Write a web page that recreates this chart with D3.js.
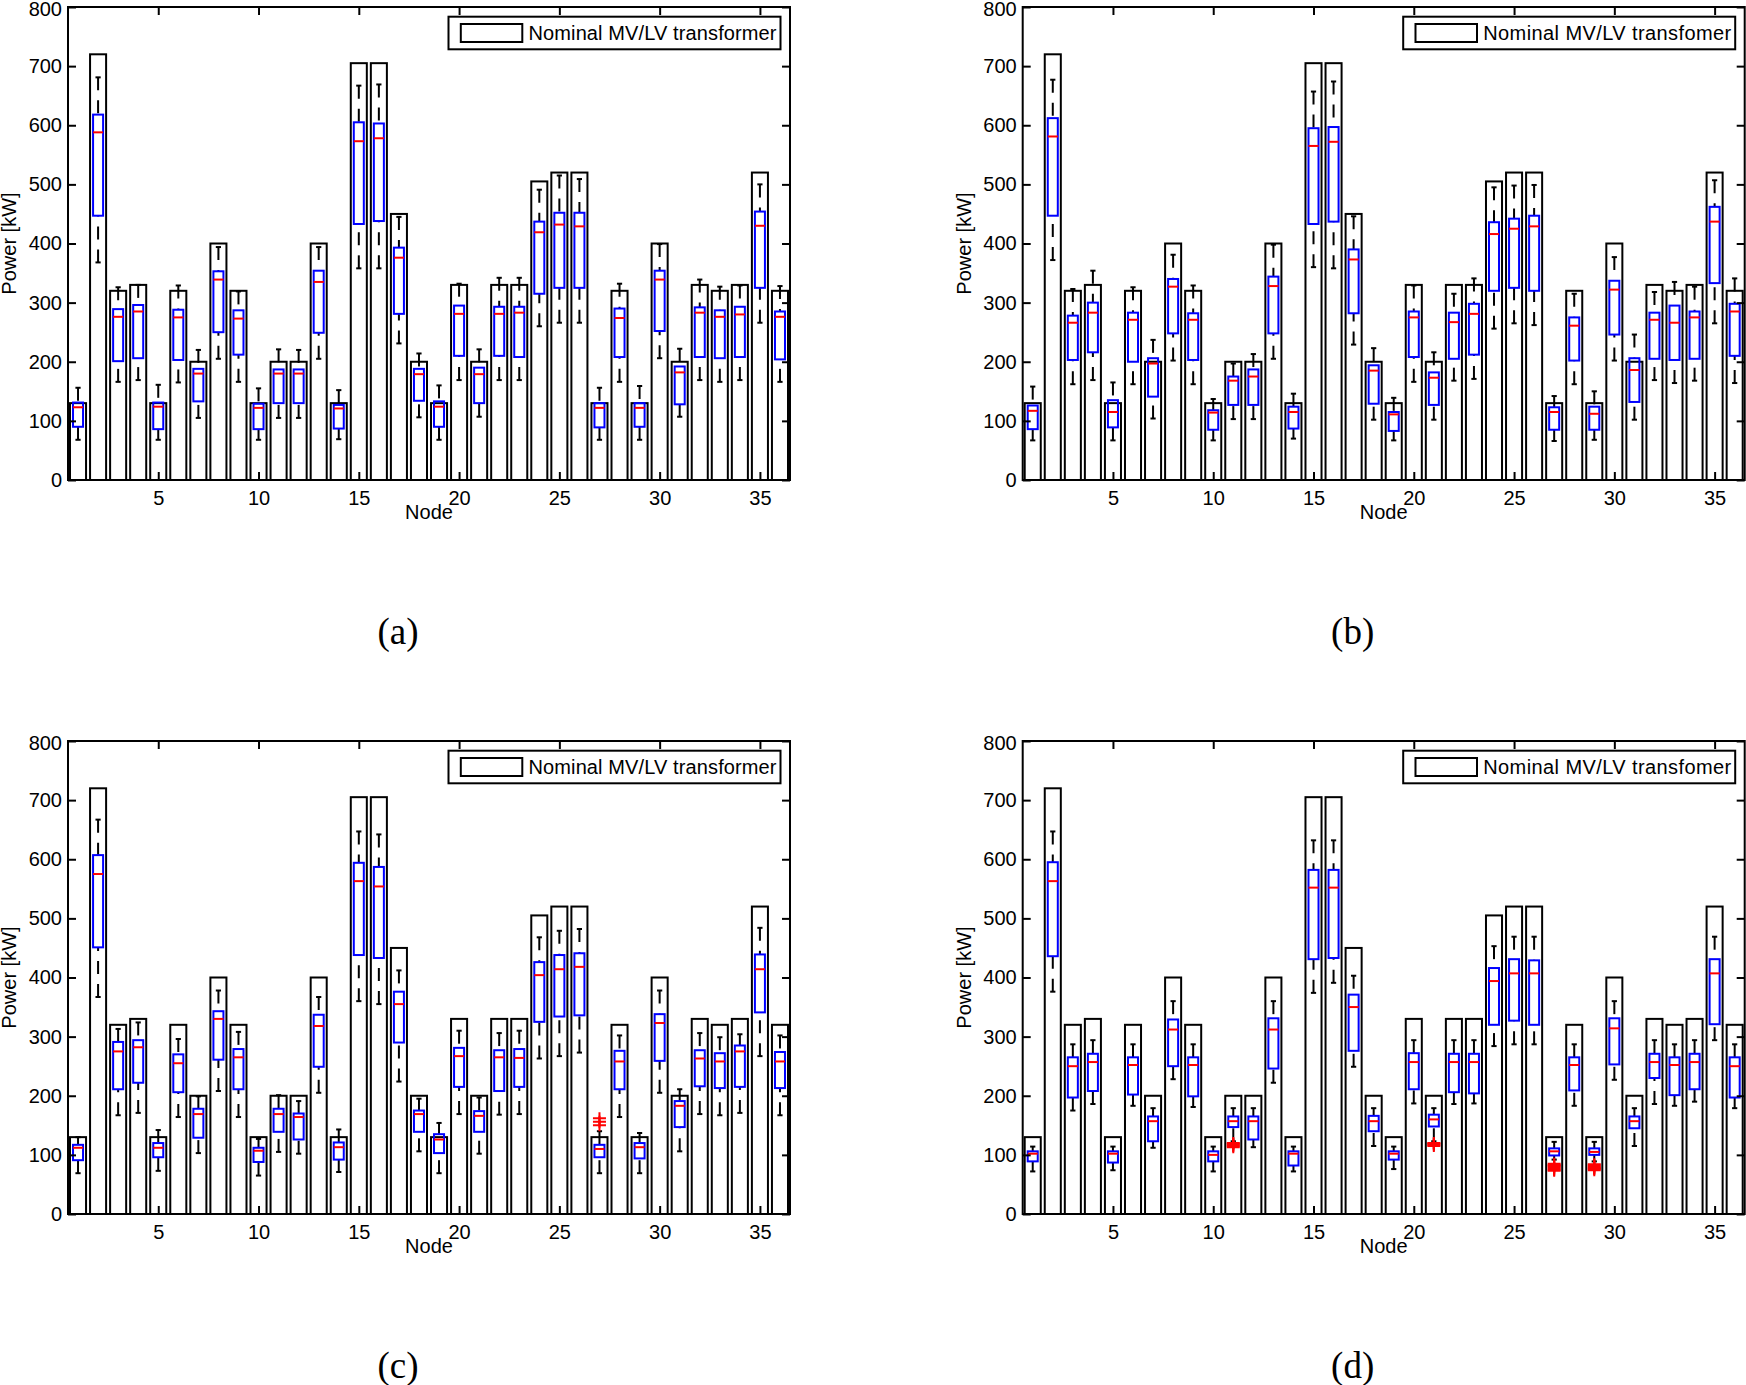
<!DOCTYPE html>
<html><head><meta charset="utf-8">
<script src="https://cdn.jsdelivr.net/npm/d3@7/dist/d3.min.js"></script>
<style>body{margin:0;background:#fff}svg{display:block}</style>
</head><body>
<svg id="chart" width="1746" height="1385"></svg>
<script>
// ---------------- data ----------------
const nodes = d3.range(1, 37);
const xTicks = [5, 10, 15, 20, 25, 30, 35];
const yTicks = [0, 100, 200, 300, 400, 500, 600, 700, 800];
const capacity = [130,720,320,330,130,320,200,400,320,130,200,200,400,130,705,705,450,200,130,330,200,330,330,505,520,520,130,320,130,400,200,330,320,330,520,320];

// panel (a)
const a_lo  = [68,368,166,169,68,165,105,205,166,68,105,105,205,69,358,358,231,106,68,169,107,169,169,260,266,266,68,166,68,206,107,169,166,169,266,166];
const a_q1  = [90,447,201,206,86,203,133,250,212,86,130,130,249,87,433,438,281,134,90,210,130,210,208,315,325,325,89,208,90,252,128,208,206,208,325,204];
const a_med = [123,588,276,285,124,275,180,339,273,122,180,180,335,121,573,578,376,179,124,281,179,281,283,419,432,429,122,274,122,339,182,283,276,280,430,276];
const a_q3  = [131,618,289,296,131,288,188,353,287,129,187,187,354,127,605,603,393,188,133,295,190,293,293,437,452,452,130,290,130,354,192,292,287,293,454,285];
const a_hi  = [156,681,326,330,161,329,220,394,319,155,221,220,394,152,667,669,445,214,160,332,221,342,342,491,515,509,156,332,159,399,222,339,327,329,500,328];
const a_out = [];

// panel (b)
const b_lo  = [67,372,162,169,67,162,104,202,162,67,103,103,205,70,360,358,229,102,67,166,102,168,171,256,265,262,66,162,68,202,102,169,164,168,265,164];
const b_q1  = [86,447,203,216,89,200,141,248,203,85,127,127,248,87,433,437,282,129,83,208,127,205,212,320,325,320,85,202,85,246,132,205,203,205,333,210];
const b_med = [117,581,266,283,115,271,197,327,271,114,168,175,328,115,565,572,373,185,111,275,173,267,281,416,425,429,115,261,112,322,186,271,266,275,437,285];
const b_q3  = [126,612,278,300,135,283,206,340,282,118,175,187,344,124,595,597,390,194,115,285,182,283,298,436,442,447,123,275,124,337,206,283,295,285,462,298];
const b_hi  = [158,677,323,354,165,326,237,381,329,137,197,213,398,146,657,674,446,223,139,329,216,315,341,495,498,499,142,315,150,377,246,318,335,327,507,341];
const b_out = [];

// panel (c)
const c_lo  = [69,367,167,171,73,164,103,208,164,65,105,102,205,71,360,355,224,106,69,169,102,168,169,263,267,273,69,164,69,205,106,169,167,171,267,167];
const c_q1  = [91,451,211,222,96,206,129,261,211,88,139,126,249,92,438,433,290,139,103,215,139,208,215,325,334,336,96,211,94,259,147,216,213,215,341,213];
const c_med = [112,575,275,282,112,255,169,330,265,107,169,164,318,113,563,554,355,169,126,267,166,265,264,404,414,418,110,258,113,323,183,263,258,275,414,258];
const c_q3  = [117,607,291,294,120,270,178,343,279,112,178,170,337,121,594,587,376,175,135,281,174,277,279,426,438,441,117,276,120,338,191,277,272,285,439,274];
const c_hi  = [130,667,313,324,142,296,199,378,308,127,201,191,367,143,647,642,412,195,154,310,197,306,310,468,479,482,140,302,137,378,211,306,299,304,484,302];
const c_out = [[27,150],[27,156],[27,162]];

// panel (d)
const d_lo  = [72,376,175,186,74,183,112,228,181,72,123,113,222,72,374,391,249,115,76,187,123,186,187,284,287,287,92,183,89,227,115,186,183,190,294,179];
const d_q1  = [89,436,197,208,87,202,123,250,199,89,147,126,246,82,431,433,276,140,92,211,148,206,204,320,327,320,99,209,100,253,145,230,201,211,321,197];
const d_med = [102,563,250,257,102,252,157,312,252,100,157,157,312,102,552,552,350,157,102,257,160,257,257,394,407,407,106,252,105,314,157,257,252,257,407,250];
const d_q3  = [106,595,265,271,106,265,165,329,265,106,165,165,331,106,582,582,371,166,106,272,168,271,271,416,431,429,111,265,111,331,165,271,265,271,431,265];
const d_hi  = [114,647,287,294,114,287,179,360,287,114,179,179,360,114,632,632,403,179,114,294,179,294,294,453,469,469,122,287,122,360,179,294,287,294,469,287];
const d_out = [[11,113],[11,115],[11,117],[11,119],[11,120],[21,115],[21,117],[21,119],[21,120],
               [27,73],[27,75],[27,77],[27,79],[27,81],[27,83],[27,85],
               [29,74],[29,76],[29,78],[29,80],[29,82],[29,84]];

const panelLabels = ["(a)", "(b)", "(c)", "(d)"];
const legendTexts = ["Nominal MV/LV transformer", "Nominal MV/LV transfomer", "Nominal MV/LV transformer", "Nominal MV/LV transfomer"];
const yLabel = "Power [kW]";
const xLabel = "Node";

// ---------------- layout ----------------
const PW = 722, PH = 473;
const origins = [[68, 7], [1022.7, 7], [68, 741], [1022.7, 741]];
const series = [
  [a_lo, a_q1, a_med, a_q3, a_hi, a_out],
  [b_lo, b_q1, b_med, b_q3, b_hi, b_out],
  [c_lo, c_q1, c_med, c_q3, c_hi, c_out],
  [d_lo, d_q1, d_med, d_q3, d_hi, d_out]
];
const FONT = "'Liberation Sans', Arial, Helvetica, sans-serif";
const svg = d3.select("#chart");

series.forEach((s, i) => {
  const [lo, q1, med, q3, hi, out] = s;
  const [x0, y0] = origins[i];
  const x = d3.scaleLinear().domain([0.5, 36.5]).range([x0, x0 + PW]);
  const y = d3.scaleLinear().domain([0, 800]).range([y0 + PH, y0]);
  const g = svg.append("g");

  // transformer bars
  g.selectAll("rect.bar").data(nodes).join("rect").attr("class", "bar")
    .attr("x", n => x(n - 0.4)).attr("width", n => x(n + 0.4) - x(n - 0.4))
    .attr("y", n => y(capacity[n - 1])).attr("height", n => y(0) - y(capacity[n - 1]))
    .attr("fill", "#fff").attr("stroke", "#000").attr("stroke-width", 2);

  // whiskers (dashed, from cap toward box)
  g.selectAll("line.wu").data(nodes).join("line").attr("class", "wu")
    .attr("x1", n => x(n)).attr("x2", n => x(n))
    .attr("y1", n => y(hi[n - 1])).attr("y2", n => y(q3[n - 1]))
    .attr("stroke", "#000").attr("stroke-width", 2).attr("stroke-dasharray", "13,10");
  g.selectAll("line.wl").data(nodes).join("line").attr("class", "wl")
    .attr("x1", n => x(n)).attr("x2", n => x(n))
    .attr("y1", n => y(lo[n - 1])).attr("y2", n => y(q1[n - 1]))
    .attr("stroke", "#000").attr("stroke-width", 2).attr("stroke-dasharray", "13,10");
  // caps
  [hi, lo].forEach((arr, k) => {
    g.selectAll("line.cap" + k).data(nodes).join("line").attr("class", "cap" + k)
      .attr("x1", n => x(n - 0.13)).attr("x2", n => x(n + 0.13))
      .attr("y1", n => y(arr[n - 1])).attr("y2", n => y(arr[n - 1]))
      .attr("stroke", "#000").attr("stroke-width", 2);
  });
  // boxes
  g.selectAll("rect.box").data(nodes).join("rect").attr("class", "box")
    .attr("x", n => x(n - 0.25)).attr("width", n => x(n + 0.25) - x(n - 0.25))
    .attr("y", n => y(q3[n - 1])).attr("height", n => y(q1[n - 1]) - y(q3[n - 1]))
    .attr("fill", "none").attr("stroke", "#0000ff").attr("stroke-width", 2);
  // medians
  g.selectAll("line.med").data(nodes).join("line").attr("class", "med")
    .attr("x1", n => x(n - 0.25)).attr("x2", n => x(n + 0.25))
    .attr("y1", n => y(med[n - 1])).attr("y2", n => y(med[n - 1]))
    .attr("stroke", "#ff0000").attr("stroke-width", 2);
  // outliers
  g.selectAll("path.out").data(out).join("path").attr("class", "out")
    .attr("d", d => {
      const cx = x(d[0]), cy = y(d[1]);
      return `M${cx - 6.5},${cy}H${cx + 6.5}M${cx},${cy - 6}V${cy + 6}`;
    })
    .attr("fill", "none").attr("stroke", "#ff0000").attr("stroke-width", 2);

  // axes
  const styleAxis = sel => {
    sel.select(".domain").remove();
    sel.selectAll(".tick line").attr("stroke", "#000").attr("stroke-width", 2);
    sel.selectAll(".tick text").attr("fill", "#000").style("font-family", FONT).style("font-size", "20px");
  };
  const yAx = g.append("g").attr("transform", `translate(${x0},0)`)
    .call(d3.axisLeft(y).tickValues(yTicks).tickSizeInner(-8).tickSizeOuter(0).tickPadding(6)).call(styleAxis);
  yAx.selectAll(".tick text").filter(d => d === 800).attr("dy", "0.42em");
  g.append("g").attr("transform", `translate(${x0 + PW},0)`)
    .call(d3.axisRight(y).tickValues(yTicks).tickSizeInner(-8).tickSizeOuter(0).tickFormat("")).call(styleAxis);
  g.append("g").attr("transform", `translate(0,${y0 + PH})`)
    .call(d3.axisBottom(x).tickValues(xTicks).tickSizeInner(-8).tickSizeOuter(0).tickPadding(10.5)).call(styleAxis);
  g.append("g").attr("transform", `translate(0,${y0})`)
    .call(d3.axisTop(x).tickValues(xTicks).tickSizeInner(-8).tickSizeOuter(0).tickFormat("")).call(styleAxis);
  g.append("rect").attr("x", x0).attr("y", y0).attr("width", PW).attr("height", PH)
    .attr("fill", "none").attr("stroke", "#000").attr("stroke-width", 2);

  // legend
  const lg = g.append("g").attr("transform", `translate(${x0 + 380.5},${y0 + 9.7})`);
  lg.append("rect").attr("width", 332).attr("height", 32.6)
    .attr("fill", "#fff").attr("stroke", "#000").attr("stroke-width", 2);
  lg.append("rect").attr("x", 12.3).attr("y", 7.3).attr("width", 61.5).attr("height", 18)
    .attr("fill", "#fff").attr("stroke", "#000").attr("stroke-width", 2);
  lg.append("text").attr("x", 80).attr("y", 23.3).text(legendTexts[i])
    .attr("textLength", 248).attr("lengthAdjust", "spacing")
    .style("font-family", FONT).style("font-size", "20px").attr("fill", "#000");

  // axis labels
  g.append("text").attr("transform", `translate(${x0 - 52},${y0 + PH / 2}) rotate(-90)`)
    .attr("text-anchor", "middle").text(yLabel)
    .style("font-family", FONT).style("font-size", "20px").attr("fill", "#000");
  g.append("text").attr("x", x0 + 361).attr("y", y0 + 512).attr("text-anchor", "middle").text(xLabel)
    .style("font-family", FONT).style("font-size", "20px").attr("fill", "#000");

  // panel label
  g.append("text").attr("x", x0 + 330).attr("y", y0 + 637).attr("text-anchor", "middle").text(panelLabels[i])
    .style("font-family", "'Liberation Serif', 'Times New Roman', serif").style("font-size", "37px").attr("fill", "#000");
});
</script>
</body></html>
